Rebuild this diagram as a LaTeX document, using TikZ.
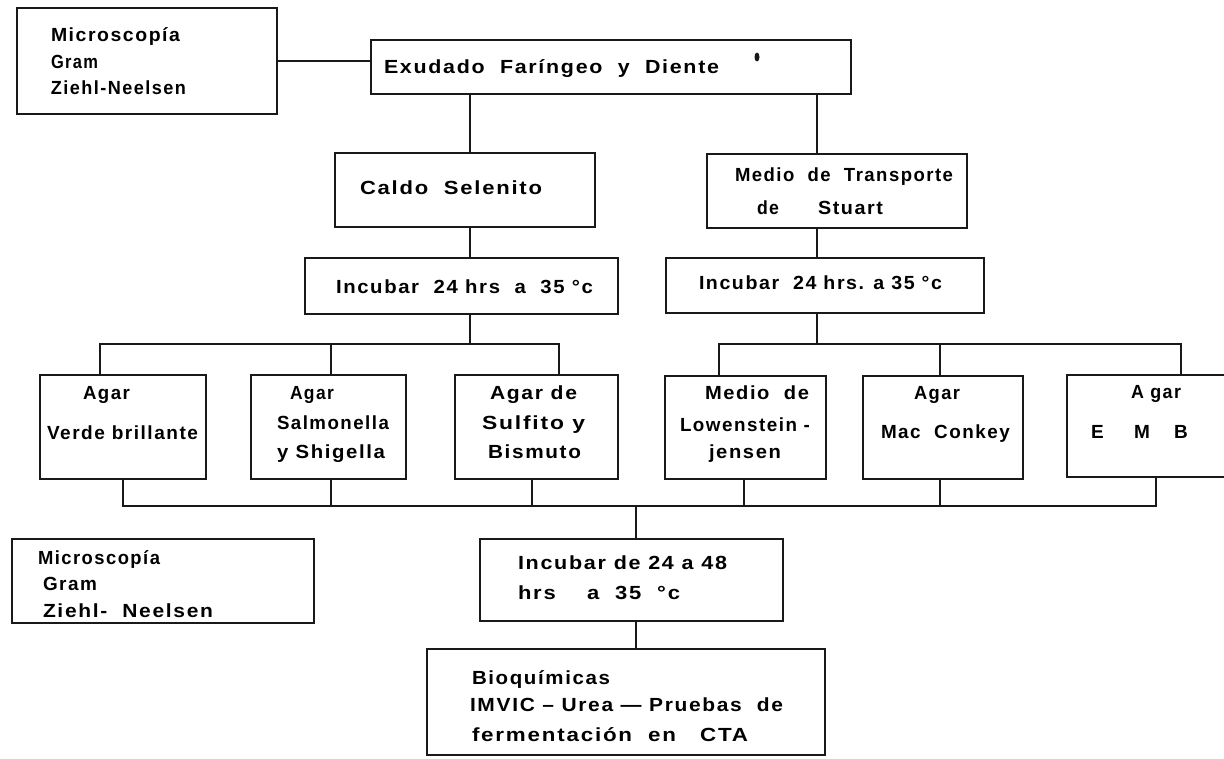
\documentclass[tikz,border=0pt]{standalone}
\usepackage{fontspec}
\usepackage{graphicx}
\newfontfamily\twfont[LetterSpace=8]{Liberation Sans}
\usetikzlibrary{fit}
\newcommand\fitt[2]{\resizebox{#1pt}{\height}{#2}}
\begin{document}
\begin{tikzpicture}[x=1pt,y=-1pt,
  box/.style={draw=black!90, line width=1.8pt, inner sep=0pt, outer sep=0pt},
  lnk/.style={draw=black!90, line width=1.8pt},
  txt/.style={anchor=base west, inner sep=0pt, outer sep=0pt, text=black,
              font=\twfont\bfseries\fontsize{19}{22}\selectfont}]
\fill[white] (0,0) rectangle (1224,758);
\useasboundingbox (0,0) rectangle (1224,758);

% ---------- boxes ----------
\node[box, fit={(17,8) (277,114)}] (micro1) {};
\node[box, fit={(371,40) (851,94)}] (exud) {};
\node[box, fit={(335,153) (595,227)}] (caldo) {};
\node[box, fit={(707,154) (967,228)}] (medio) {};
\node[box, fit={(305,258) (618,314)}] (inc1) {};
\node[box, fit={(666,258) (984,313)}] (inc2) {};
\node[box, fit={(40,375) (206,479)}] (verde) {};
\node[box, fit={(251,375) (406,479)}] (salm) {};
\node[box, fit={(455,375) (618,479)}] (sulf) {};
\node[box, fit={(665,376) (826,479)}] (lowen) {};
\node[box, fit={(863,376) (1023,479)}] (mac) {};
\begin{scope}
  \clip (0,0) rectangle (1224,758);
  \node[box, fit={(1067,375) (1240,477)}] (emb) {};
\end{scope}
\node[box, fit={(12,539) (314,623)}] (micro2) {};
\node[box, fit={(480,539) (783,621)}] (inc3) {};
\node[box, fit={(427,649) (825,755)}] (bio) {};

% ---------- bus coordinates ----------
\coordinate (b1L) at (100,344);
\coordinate (b1M) at (331,344);
\coordinate (b1R) at (559,344);
\coordinate (b1C) at (470,344);
\coordinate (b2L) at (719,344);
\coordinate (b2M) at (940,344);
\coordinate (b2R) at (1181,344);
\coordinate (b2C) at (817,344);
\coordinate (b3a) at (123,506);
\coordinate (b3b) at (331,506);
\coordinate (b3c) at (532,506);
\coordinate (b3d) at (744,506);
\coordinate (b3e) at (940,506);
\coordinate (b3f) at (1156,506);
\coordinate (b3C) at (636,506);

% ---------- connectors ----------
\draw[lnk] (micro1.east) -- (micro1.east -| exud.west);
\draw[lnk] (exud.south -| b1C) -- (caldo.north -| b1C);
\draw[lnk] (exud.south -| b2C) -- (medio.north -| b2C);
\draw[lnk] (caldo.south -| b1C) -- (inc1.north -| b1C);
\draw[lnk] (medio.south -| b2C) -- (inc2.north -| b2C);
\draw[lnk] (inc1.south -| b1C) -- (b1C);
\draw[lnk] (inc2.south -| b2C) -- (b2C);
\draw[lnk] (verde.north -| b1L) -- (b1L) -- (b1R) -- (sulf.north -| b1R);
\draw[lnk] (b1M) -- (salm.north -| b1M);
\draw[lnk] (lowen.north -| b2L) -- (b2L) -- (b2R) -- (emb.north -| b2R);
\draw[lnk] (b2M) -- (mac.north -| b2M);
\draw[lnk] (verde.south -| b3a) -- (b3a) -- (b3f) -- (emb.south -| b3f);
\draw[lnk] (salm.south -| b3b) -- (b3b);
\draw[lnk] (sulf.south -| b3c) -- (b3c);
\draw[lnk] (lowen.south -| b3d) -- (b3d);
\draw[lnk] (mac.south -| b3e) -- (b3e);
\draw[lnk] (b3C) -- (inc3.north -| b3C);
\draw[lnk] (inc3.south -| b3C) -- (bio.north -| b3C);

% ---------- texts ----------
\node[txt] (m1a) at (51,41) {\fitt{129}{Microscopía}};
\node[txt] (m1b) at (51,68) {\fitt{47}{Gram}};
\node[txt] (m1c) at (51,94) {\fitt{135}{Ziehl-Neelsen}};
\node[txt] (ex) at (384,73) {\fitt{335}{Exudado\ \ Faríngeo\ \ y\ \ Diente}};
\fill[black!90] (757,57) ellipse (2.5 and 4.5);
\node[txt] (ca) at (360,194) {\fitt{182}{Caldo\ \ Selenito}};
\node[txt] (mea) at (735,181) {\fitt{218}{Medio\ \ de\ \ Transporte}};
\node[txt] (meb) at (757,214) {\fitt{22}{de}};
\node[txt] (mec) at (818,214) {\fitt{65}{Stuart}};
\node[txt] (i1) at (336,293) {\fitt{257}{Incubar\ \ 24 hrs\ \ a\ \ 35 °c}};
\node[txt] (i2) at (699,289) {\fitt{243}{Incubar\ \ 24 hrs. a 35 °c}};
\node[txt] (va) at (83,399) {\fitt{47}{Agar}};
\node[txt] (vb) at (47,439) {\fitt{151}{Verde brillante}};
\node[txt] (sa) at (290,399) {\fitt{44}{Agar}};
\node[txt] (sb) at (277,429) {\fitt{112}{Salmonella}};
\node[txt] (sc) at (277,458) {\fitt{108}{y Shigella}};
\node[txt] (ua) at (490,399) {\fitt{87}{Agar de}};
\node[txt] (ub) at (482,429) {\fitt{103}{Sulfito y}};
\node[txt] (uc) at (488,458) {\fitt{93}{Bismuto}};
\node[txt] (la) at (705,399) {\fitt{104}{Medio\ \ de}};
\node[txt] (lb) at (680,431) {\fitt{130}{Lowenstein -}};
\node[txt] (lc) at (709,458) {\fitt{72}{jensen}};
\node[txt] (ma) at (914,399) {\fitt{46}{Agar}};
\node[txt] (mb) at (881,438) {\fitt{129}{Mac\ \ Conkey}};
\node[txt] (ea) at (1131,398) {\fitt{50}{A gar}};
\node[txt] (eb) at (1091,438) {E};
\node[txt] (ec) at (1134,438) {M};
\node[txt] (ed) at (1174,438) {B};
\node[txt] (m2a) at (38,564) {\fitt{122}{Microscopía}};
\node[txt] (m2b) at (43,590) {\fitt{54}{Gram}};
\node[txt] (m2c) at (43,617) {\fitt{170}{Ziehl-\ \ Neelsen}};
\node[txt] (i3a) at (518,569) {\fitt{209}{Incubar de 24 a 48}};
\node[txt] (i3b) at (518,599) {\fitt{162}{hrs\ \ \ \ a\ \ 35\ \ °c}};
\node[txt] (ba) at (472,684) {\fitt{138}{Bioquímicas}};
\node[txt] (bb) at (470,711) {\fitt{313}{IMVIC – Urea — Pruebas\ \ de}};
\node[txt] (bc) at (472,741) {\fitt{276}{fermentación\ \ en\ \ \ CTA}};
\end{tikzpicture}
\end{document}
